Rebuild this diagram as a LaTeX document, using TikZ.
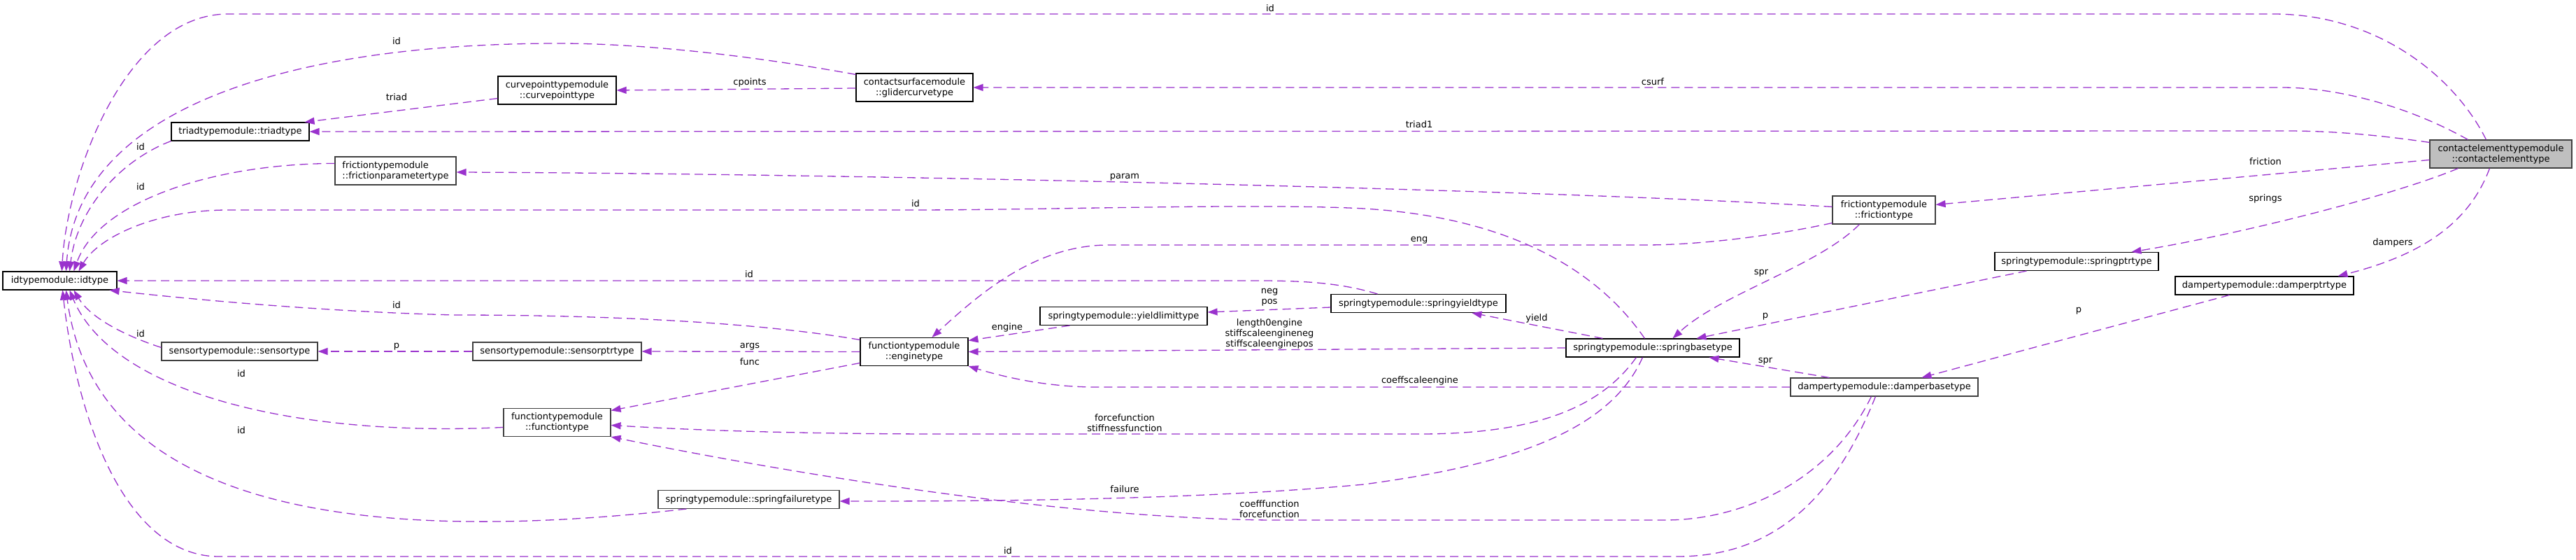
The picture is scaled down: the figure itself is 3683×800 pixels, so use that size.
\documentclass[tikz,border=0pt]{standalone}
\usepackage{fontspec}
\setmainfont{DejaVu Sans}
\usetikzlibrary{arrows.meta,calc}
\definecolor{edgec}{HTML}{9A32CD}
\definecolor{nodegray}{HTML}{404040}
\definecolor{cefill}{HTML}{BFBFBF}
\begin{document}
\begin{tikzpicture}[x=1bp,y=-1bp,
  box/.style={draw=black, line width=1.1bp, fill=white, inner sep=0pt, align=center,
    font=\fontsize{13bp}{15bp}\selectfont},
  gbox/.style={box, draw=nodegray},
  lbl/.style={inner sep=0pt, align=center, font=\fontsize{13bp}{15bp}\selectfont},
  edge/.style={draw=edgec, line width=1.3bp, dash pattern=on 12bp off 7bp,
    -{Triangle[length=14bp,width=10bp]}}]
\useasboundingbox (0,0) rectangle (3683,800);
% nodes
\node[gbox, fill=cefill, minimum width=203bp, minimum height=40bp] (ce) at (3575.5,220) {contactelementtypemodule\\::contactelementtype};
\node[box, minimum width=167bp, minimum height=40bp] (glider) at (1307.5,125) {contactsurfacemodule\\::glidercurvetype};
\node[box, minimum width=169bp, minimum height=40bp] (curvept) at (796.5,129) {curvepointtypemodule\\::curvepointtype};
\node[box, minimum width=197bp, minimum height=26bp] (triad) at (343.5,188) {triadtypemodule::triadtype};
\node[gbox, minimum width=173bp, minimum height=40bp, align=left] (fparam) at (565.5,244) {frictiontypemodule\\::frictionparametertype};
\node[box, minimum width=163bp, minimum height=26bp] (idt) at (85.5,401) {idtypemodule::idtype};
\node[gbox, minimum width=147bp, minimum height=40bp] (ftype) at (2693.5,300) {frictiontypemodule\\::frictiontype};
\node[box, minimum width=234bp, minimum height=26bp] (sptr) at (2969,373.5) {springtypemodule::springptrtype};
\node[box, minimum width=255bp, minimum height=26bp] (dptr) at (3237.5,408) {dampertypemodule::damperptrtype};
\node[box, minimum width=250bp, minimum height=26bp] (syield) at (2028,433.5) {springtypemodule::springyieldtype};
\node[box, minimum width=239bp, minimum height=26bp] (ylim) at (1606.5,451.5) {springtypemodule::yieldlimittype};
\node[box, minimum width=154bp, minimum height=40bp] (eng) at (1307,502.5) {functiontypemodule\\::enginetype};
\node[box, minimum width=248bp, minimum height=26bp] (sbase) at (2363,497) {springtypemodule::springbasetype};
\node[gbox, minimum width=268bp, minimum height=26bp] (dbase) at (2694,553) {dampertypemodule::damperbasetype};
\node[gbox, minimum width=241bp, minimum height=26bp] (sptrt) at (796.5,502) {sensortypemodule::sensorptrtype};
\node[gbox, minimum width=223bp, minimum height=26bp] (sens) at (342.5,502) {sensortypemodule::sensortype};
\node[gbox, minimum width=153bp, minimum height=40bp] (func) at (796.5,603.5) {functiontypemodule\\::functiontype};
\node[gbox, minimum width=259bp, minimum height=26bp] (sfail) at (1070.5,713.5) {springtypemodule::springfailuretype};
% edges
\draw[edge] ($(ce.north west)+(81,0)$) .. controls (3510,110) and (3400,20) .. (3250,20) -- (326,20) .. controls (180,20) and (96,250) .. ($(idt.north west)+(85,0)$);
\draw[edge] ($(glider.north west)+(0,2)$) .. controls (1050,75) and (900,62) .. (800,62) .. controls (400,62) and (110,160) .. ($(idt.north west)+(91,0)$);
\draw[edge] ($(ce.north west)+(0,4)$) .. controls (3380,190) and (3320,187) .. (3267,187) -- (triad.east);
\draw[edge] ($(ce.north west)+(55,0)$) .. controls (3440,150) and (3340,125) .. (3262,125) -- (glider.east);
\draw[edge] ($(ce.north west)+(0,29)$) -- ($(ftype.north east)+(0,13)$);
\draw[edge] ($(ce.south west)+(41,0)$) .. controls (3420,280) and (3200,335) .. ($(sptr.north west)+(196,0)$);
\draw[edge] ($(ce.south west)+(86,0)$) .. controls (3530,320) and (3460,365) .. ($(dptr.north west)+(233,0)$);
\draw[edge] ($(dptr.south west)+(78,0)$) -- ($(dbase.north west)+(188,0)$);
\draw[edge] ($(ftype.north west)+(0,16)$) .. controls (2200,270) and (1200,248) .. ($(fparam.east)+(0,2)$);
\draw[edge] ($(ftype.south west)+(0,-2)$) .. controls (2520,340) and (2420,350) .. (2352,350) -- (1585,350) .. controls (1480,350) and (1400,420) .. ($(eng.north west)+(103,0)$);
\draw[edge] ($(ftype.south west)+(39,0)$) .. controls (2600,380) and (2460,420) .. ($(sbase.north west)+(153,0)$);
\draw[edge] ($(sbase.north west)+(113,0)$) .. controls (2280,380) and (2150,310) .. (1950,298) .. controls (1800,290) and (1500,300) .. (1300,300) -- (326,300) .. controls (220,300) and (140,340) .. ($(idt.north west)+(109,0)$);
\draw[edge] ($(sbase.north west)+(53,0)$) -- ($(syield.south west)+(202,0)$);
\draw[edge] ($(sptr.south west)+(46,0)$) -- ($(sbase.north west)+(187,0)$);
\draw[edge] ($(syield.west)+(0,5.5)$) -- ($(ylim.east)+(0,-5.5)$);
\draw[edge] ($(ylim.south west)+(43,0)$) -- ($(eng.north east)+(0,4.5)$);
\draw[edge] (sbase.west) -- (eng.east);
\draw[edge] (dbase.west) -- (1568,553) .. controls (1500,553) and (1440,540) .. (eng.south east);
\draw[edge] ($(sbase.south west)+(101,0)$) .. controls (2290,580) and (2200,620) .. (2030,620) -- (1350,620) .. controls (1100,620) and (950,612) .. ($(func.north east)+(0,24.5)$);
\draw[edge] ($(sbase.south west)+(110,0)$) .. controls (2300,620) and (2150,665) .. (1950,692) .. controls (1700,715) and (1400,716) .. ($(sfail.east)+(0,2.5)$);
\draw[edge] ($(dbase.north west)+(56,0)$) -- ($(sbase.south west)+(205,0)$);
\draw[edge] ($(dbase.south west)+(116,0)$) .. controls (2620,680) and (2500,743) .. (2380,743) -- (1815,743) .. controls (1500,740) and (1100,670) .. (func.south east);
\draw[edge] ($(dbase.south west)+(122,0)$) .. controls (2620,720) and (2530,795) .. (2398,795) -- (313,795) .. controls (180,795) and (110,600) .. ($(idt.south west)+(86,0)$);
\draw[edge] ($(syield.north west)+(67,0)$) .. controls (1920,405) and (1870,401) .. (1800,401) -- (idt.east);
\draw[edge] ($(eng.north west)+(0,3.5)$) .. controls (1050,455) and (800,450) .. (650,450) .. controls (450,445) and (250,425) .. ($(idt.south east)+(-11,0)$);
\draw[edge] (eng.west) -- (sptrt.east);
\draw[edge] ($(eng.south west)+(0,-4.5)$) -- ($(func.north east)+(0,3.5)$);
\draw[edge] (sptrt.west) -- (sens.east);
\draw[edge] ($(sens.north west)+(0,8)$) .. controls (180,480) and (130,455) .. ($(idt.south west)+(102,0)$);
\draw[edge] ($(func.north west)+(0,27.5)$) .. controls (420,625) and (160,560) .. ($(idt.south west)+(96,0)$);
\draw[edge] ($(sfail.south west)+(41,0)$) .. controls (600,770) and (140,760) .. ($(idt.south west)+(91,0)$);
\draw[edge] (triad.south west) .. controls (170,230) and (110,300) .. ($(idt.north west)+(96,0)$);
\draw[edge] ($(fparam.north west)+(0,10)$) .. controls (300,234) and (140,290) .. ($(idt.north west)+(102,0)$);
\draw[edge] ($(glider.west)+(0,1)$) -- (curvept.east);
\draw[edge] ($(curvept.south west)+(0,-9)$) -- ($(triad.north east)+(-7,0)$);
% labels
\node[lbl] (l01) at (1816,12) {id};
\node[lbl] (l02) at (567,59) {id};
\node[lbl] (l03) at (567,139) {triad};
\node[lbl] (l04) at (1072,118) {cpoints};
\node[lbl] (l05) at (2363,117) {csurf};
\node[lbl] (l06) at (2029,178) {triad1};
\node[lbl] (l07) at (201,210) {id};
\node[lbl] (l08) at (3239,231) {friction};
\node[lbl] (l09) at (1608,253) {param};
\node[lbl] (l10) at (201,267) {id};
\node[lbl] (l11) at (3239,284) {springs};
\node[lbl] (l12) at (1309,291) {id};
\node[lbl] (l13) at (2029,343) {eng};
\node[lbl] (l14) at (3421,347) {dampers};
\node[lbl] (l15) at (2518,390) {spr};
\node[lbl] (l16) at (1071,392) {id};
\node[lbl] (l17) at (1815,425) {neg\\pos};
\node[lbl] (l18) at (567,436) {id};
\node[lbl] (l19) at (2524,452) {p};
\node[lbl] (l20) at (2197,455) {yield};
\node[lbl] (l21) at (2972,444) {p};
\node[lbl] (l22) at (1440,468) {engine};
\node[lbl] (l23) at (1815,477) {length0engine\\stiffscaleengineneg\\stiffscaleenginepos};
\node[lbl] (l24) at (201,477) {id};
\node[lbl] (l25) at (1072,495) {args};
\node[lbl] (l26) at (567,495) {p};
\node[lbl] (l27) at (2524,516) {spr};
\node[lbl] (l28) at (1072,517) {func};
\node[lbl] (l29) at (345,534) {id};
\node[lbl] (l30) at (2030,544) {coeffscaleengine};
\node[lbl] (l31) at (1608,604) {forcefunction\\stiffnessfunction};
\node[lbl] (l32) at (345,615) {id};
\node[lbl] (l33) at (1608,699) {failure};
\node[lbl] (l34) at (1815,727) {coefffunction\\forcefunction};
\node[lbl] (l35) at (1441,787) {id};
\end{tikzpicture}
\end{document}
